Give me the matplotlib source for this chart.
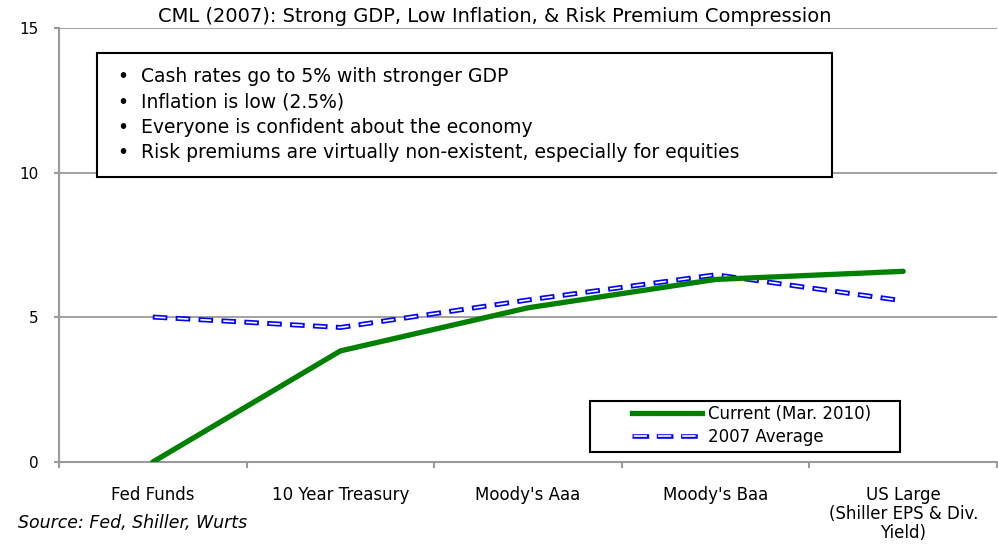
import matplotlib
matplotlib.use("Agg")
import matplotlib.pyplot as plt
from matplotlib.patches import Rectangle
from matplotlib.lines import Line2D
from matplotlib.legend_handler import HandlerTuple

plt.rcParams['font.family'] = ['DejaVu Sans']
plt.rcParams['lines.scale_dashes'] = False

categories = ["Fed Funds", "10 Year Treasury", "Moody's Aaa", "Moody's Baa",
              "US Large\n(Shiller EPS & Div.\nYield)"]
current = [0.0, 3.84, 5.33, 6.31, 6.59]
avg2007 = [5.01, 4.65, 5.6, 6.47, 5.57]
yticks = [0, 5, 10, 15]
title = "CML (2007): Strong GDP, Low Inflation, & Risk Premium Compression"
bullets = ["Cash rates go to 5% with stronger GDP",
           "Inflation is low (2.5%)",
           "Everyone is confident about the economy",
           "Risk premiums are virtually non-existent, especially for equities"]
series_labels = ["Current (Mar. 2010)", "2007 Average"]
source = "Source: Fed, Shiller, Wurts"

W, H = 998, 550
fig = plt.figure(figsize=(W / 100, H / 100), dpi=100)
ax = fig.add_axes([59 / W, 1 - 462 / H, (997 - 59) / W, (462 - 28) / H])

grey = '#9a9a9a'
x = list(range(len(categories)))
ax.set_xlim(-0.5, len(categories) - 0.5)
ax.set_ylim(0, 15)
ax.set_yticks(yticks)
ax.set_yticklabels([str(v) for v in yticks], fontsize=11)
for v in yticks[1:]:
    ax.axhline(v, color=grey, lw=1.3, zorder=1)

for s in ['top', 'right']:
    ax.spines[s].set_visible(False)
for s in ['left', 'bottom']:
    ax.spines[s].set_color(grey)
    ax.spines[s].set_linewidth(1.5)

ax.set_xticks(x)
ax.set_xticklabels(categories, fontsize=12, linespacing=1.08, va='top')
ax.tick_params(axis='x', which='major', length=0, pad=17)
ax.set_xticks([i - 0.5 for i in range(len(categories) + 1)], minor=True)
ax.tick_params(axis='x', which='minor', length=4.5, width=1.5, color=grey, direction='out')
ax.tick_params(axis='y', length=3.6, width=1.5, color=grey, pad=11)

ax.plot(x, current, color='#008000', lw=3.8, solid_capstyle='round', zorder=4)
outer_ls = (0, (10.5, 6.0))
inner_ls = (15.2, (7.9, 8.6))
ax.plot(x, avg2007, color='#0000ff', lw=3.6, linestyle=outer_ls, zorder=3)
ax.plot(x, avg2007, color='white', lw=1.2, linestyle=inner_ls, zorder=3.1)

# annotation box
fig.patches.append(Rectangle((97 / W, 1 - 177 / H), (832 - 97) / W, (177 - 53) / H,
                             transform=fig.transFigure, facecolor='white',
                             edgecolor='black', lw=1.5, zorder=5))
ys = [76, 102, 128, 153]
for yy, b in zip(ys, bullets):
    fig.text(117 / W, 1 - yy / H, "\u2022", fontsize=13.5, va='center', ha='left', zorder=6)
    fig.text(141 / W, 1 - yy / H, b, fontsize=13.5, va='center', ha='left', zorder=6)

# legend
fig.patches.append(Rectangle((590 / W, 1 - 452 / H), (900 - 590) / W, (452 - 401) / H,
                             transform=fig.transFigure, facecolor='white',
                             edgecolor='black', lw=1.5, zorder=5))
h1 = Line2D([], [], color='#008000', lw=3.8)
h2a = Line2D([], [], color='#0000ff', lw=3.3, linestyle=(0, (12.0, 5.5)))
h2b = Line2D([], [], color='white', lw=1.2, linestyle=(16.3, (9.6, 7.9)))
leg = fig.legend([h1, (h2a, h2b)], series_labels, loc='upper left',
                 bbox_to_anchor=(632 / W, 1 - 405 / H), bbox_transform=fig.transFigure,
                 frameon=False, fontsize=12, handlelength=4.2, handletextpad=0.35,
                 labelspacing=0.3, borderpad=0, borderaxespad=0,
                 handler_map={tuple: HandlerTuple(ndivide=1)})
leg.set_zorder(6)

fig.text(495 / W, 1 - 17 / H, title, fontsize=14, ha='center', va='center')
fig.text(18 / W, 1 - 523 / H, source, fontsize=12.5, style='italic', ha='left', va='center')

fig.savefig('out.png', dpi=100)
